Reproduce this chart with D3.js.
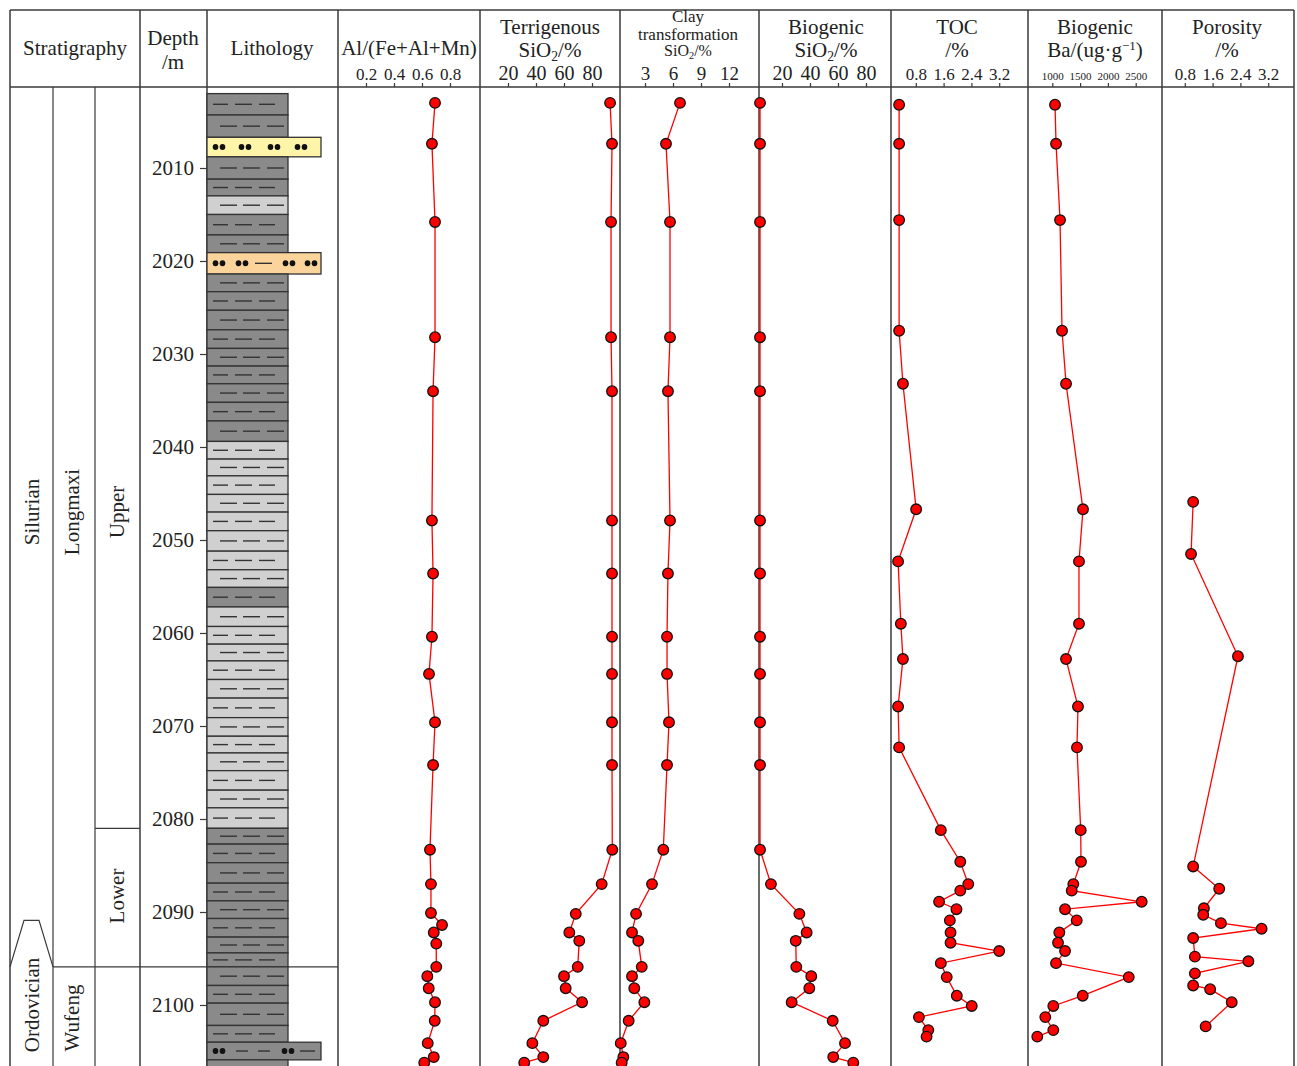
<!DOCTYPE html>
<html>
<head>
<meta charset="utf-8">
<script src="https://cdn.jsdelivr.net/npm/d3@7"></script>
<style>
  body { margin: 0; background: #fff; }
  svg text { font-family: "Liberation Serif", "Times New Roman", serif; fill: #222; }
</style>
</head>
<body>
<div id="chart"></div>
<script>
// depth axis
const depthTicks = [2010, 2020, 2030, 2040, 2050, 2060, 2070, 2080, 2090, 2100];

// lithology: top of each bed (m) and its type
// d = dark shale, l = light shale, s = sandstone, o = silty, g = wide silty shale
const bedTops = [2002.0, 2004.3, 2006.7, 2008.8, 2011.2, 2013.0, 2015.0, 2017.2, 2019.1, 2021.4,
  2023.3, 2025.3, 2027.4, 2029.4, 2031.3, 2033.2, 2035.2, 2037.2, 2039.4, 2041.3,
  2043.1, 2045.1, 2047.0, 2049.0, 2051.2, 2053.2, 2055.1, 2057.2, 2059.3, 2061.2,
  2063.0, 2065.0, 2067.0, 2069.1, 2071.1, 2072.9, 2074.8, 2076.9, 2078.8, 2081.0,
  2082.7, 2084.7, 2086.9, 2088.8, 2090.7, 2092.7, 2094.4, 2095.9, 2097.9, 2099.8,
  2102.2, 2104.0, 2105.9];
const bedBottom = 2108;
const bedTypes = ["d", "d", "s", "d", "d", "l", "d", "d", "o", "d",
  "d", "d", "d", "d", "d", "d", "d", "d", "l", "l",
  "l", "l", "l", "l", "l", "l", "d", "l", "l", "l",
  "l", "l", "l", "l", "l", "l", "l", "l", "l", "d",
  "d", "d", "d", "d", "d", "d", "d", "d", "d", "d",
  "d", "g", "d"];

// Al/(Fe+Al+Mn)
const alDepth = [2003.0, 2007.4, 2015.8, 2028.2, 2034.0, 2047.9, 2053.6, 2060.4, 2064.4, 2069.6,
  2074.2, 2083.3, 2087.0, 2090.1, 2091.4, 2092.2, 2093.4, 2095.9, 2096.9, 2098.2,
  2099.7, 2101.7, 2104.1, 2105.6, 2106.2];
const alValue = [0.693, 0.671, 0.693, 0.693, 0.679, 0.671, 0.679, 0.671, 0.650, 0.693,
  0.679, 0.657, 0.664, 0.664, 0.743, 0.684, 0.702, 0.702, 0.638, 0.648,
  0.693, 0.691, 0.641, 0.684, 0.616];

// shared sample depths for the SiO2 tracks
const sio2Depth = [2003.0, 2007.4, 2015.8, 2028.2, 2034.0, 2047.9, 2053.6, 2060.4, 2064.4, 2069.6,
  2074.2, 2083.3, 2087.0, 2090.2, 2092.2, 2093.1, 2095.9, 2096.9, 2098.2, 2099.7,
  2101.7, 2104.1, 2105.6, 2106.2];
const terrValue = [92.9, 94.3, 93.6, 93.6, 94.3, 94.3, 94.3, 94.3, 94.3, 94.3,
  94.3, 94.5, 86.9, 68.4, 63.8, 70.9, 69.8, 60.0, 61.2, 72.9,
  45.2, 37.4, 45.2, 31.6];
const clayValue = [6.75, 5.25, 5.68, 5.68, 5.46, 5.68, 5.46, 5.36, 5.36, 5.57,
  5.36, 4.96, 3.75, 2.04, 1.61, 2.28, 2.65, 1.61, 1.85, 2.93,
  1.25, 0.40, 0.68, 0.50];
const bioValue = [4.3, 4.3, 4.3, 4.3, 4.3, 4.3, 4.3, 4.3, 4.3, 4.3,
  4.3, 4.3, 12.1, 32.4, 37.6, 29.8, 30.2, 40.9, 39.5, 26.9,
  56.2, 65.0, 56.6, 70.9];

// TOC and biogenic Ba share the same samples
const tocDepth = [2003.2, 2007.4, 2015.6, 2027.5, 2033.2, 2046.7, 2052.3, 2059.0, 2062.8, 2067.9,
  2072.3, 2081.2, 2084.6, 2087.0, 2087.7, 2088.9, 2089.7, 2090.9, 2092.2, 2093.3,
  2094.2, 2095.5, 2097.0, 2099.0, 2100.1, 2101.3, 2102.7, 2103.4];
const tocValue = [0.32, 0.32, 0.32, 0.32, 0.43, 0.81, 0.29, 0.37, 0.43, 0.29,
  0.32, 1.52, 2.08, 2.31, 2.08, 1.47, 1.97, 1.78, 1.80, 1.80,
  3.20, 1.52, 1.69, 1.98, 2.41, 0.89, 1.16, 1.11];
const baValue = [1049, 1067, 1139, 1175, 1247, 1552, 1480, 1480, 1247, 1462,
  1444, 1511, 1516, 1378, 1349, 2608, 1229, 1439, 1126, 1103,
  1229, 1067, 2375, 1547, 1018, 874, 1018, 730];

// porosity
const porDepth = [2045.9, 2051.5, 2062.5, 2085.1, 2087.5, 2089.6, 2090.3, 2091.2, 2091.8, 2092.8,
  2094.8, 2095.3, 2096.6, 2097.9, 2098.3, 2099.7, 2102.3];
const porValue = [1.04, 0.98, 2.33, 1.04, 1.79, 1.35, 1.33, 1.84, 3.01, 1.04,
  1.09, 2.63, 1.09, 1.04, 1.53, 2.15, 1.40];

const W = 1297, H = 1066;
const frameTop = 10, headBottom = 87;
const lineColor = "#3a3a3a";

const svg = d3.select("#chart").append("svg")
  .attr("width", W).attr("height", H);

const y = d3.scaleLinear().domain([2010, 2100]).range([168, 1005]);

// frame and column borders
const borders = [10, 140, 207, 338, 480, 620, 759, 891, 1028, 1162, 1294];
svg.selectAll("line.border").data(borders).enter().append("line")
  .attr("x1", d => d).attr("x2", d => d)
  .attr("y1", frameTop).attr("y2", H)
  .attr("stroke", lineColor).attr("stroke-width", 1.5);
[frameTop, headBottom].forEach(h => {
  svg.append("line").attr("x1", 10).attr("x2", 1294).attr("y1", h).attr("y2", h)
    .attr("stroke", lineColor).attr("stroke-width", 1.5);
});
// stratigraphy sub-columns
[53, 95].forEach(x => {
  svg.append("line").attr("x1", x).attr("x2", x).attr("y1", headBottom).attr("y2", H)
    .attr("stroke", lineColor).attr("stroke-width", 1.2);
});
// Upper / Lower boundary
svg.append("line").attr("x1", 95).attr("x2", 140).attr("y1", y(2081.0)).attr("y2", y(2081.0))
  .attr("stroke", lineColor).attr("stroke-width", 1.2);
// Longmaxi / Wufeng boundary
svg.append("line").attr("x1", 53).attr("x2", 338).attr("y1", y(2095.9)).attr("y2", y(2095.9))
  .attr("stroke", lineColor).attr("stroke-width", 1.2);
// Silurian / Ordovician boundary
svg.append("path")
  .attr("d", d3.line()([[10, y(2095.9)], [24, y(2090.9)], [39, y(2090.9)], [53, y(2095.9)]]))
  .attr("fill", "none").attr("stroke", lineColor).attr("stroke-width", 1.2);

function vtext(x, yc, txt) {
  svg.append("text").attr("transform", `translate(${x},${yc}) rotate(-90)`)
    .attr("text-anchor", "middle").attr("dominant-baseline", "central")
    .attr("font-size", 21).text(txt);
}
vtext(32, 512, "Silurian");
vtext(32, 1005, "Ordovician");
vtext(72, 512, "Longmaxi");
vtext(72, 1018, "Wufeng");
vtext(117, 512, "Upper");
vtext(117, 896, "Lower");

// header titles
function htext(x, yb, txt, size) {
  return svg.append("text").attr("x", x).attr("y", yb).attr("text-anchor", "middle")
    .attr("font-size", size || 21).text(txt);
}
function sio2(x, yb, size) {
  const s = size || 21;
  const t = svg.append("text").attr("x", x).attr("y", yb).attr("text-anchor", "middle")
    .attr("font-size", s);
  t.append("tspan").text("SiO");
  t.append("tspan").attr("font-size", s * 0.65).attr("dy", s * 0.17).text("2");
  t.append("tspan").attr("dy", -s * 0.17).text("/%");
}
htext(75, 55, "Stratigraphy");
htext(173, 45, "Depth");
htext(173, 69, "/m");
htext(272, 55, "Lithology");
htext(409, 55, "Al/(Fe+Al+Mn)");
htext(550, 34, "Terrigenous");
sio2(550, 57);
htext(688, 22, "Clay", 17);
htext(688, 40, "transformation", 17);
sio2(688, 56, 16);
htext(826, 34, "Biogenic");
sio2(826, 57);
htext(957, 34, "TOC");
htext(957, 57, "/%");
htext(1095, 34, "Biogenic");
const ba = svg.append("text").attr("x", 1095).attr("y", 57).attr("text-anchor", "middle").attr("font-size", 21);
ba.append("tspan").text("Ba/(ug·g");
ba.append("tspan").attr("font-size", 13).attr("dy", -7).text("−1");
ba.append("tspan").attr("dy", 7).text(")");
htext(1227, 34, "Porosity");
htext(1227, 57, "/%");

// depth axis
const depthAxis = d3.axisLeft(y).tickValues(depthTicks).tickSize(7).tickPadding(6).tickFormat(d3.format("d"));
const gDepth = svg.append("g").attr("transform", "translate(207,0)").call(depthAxis);
gDepth.select(".domain").remove();
gDepth.selectAll("line").attr("stroke", lineColor).attr("stroke-width", 1.2);
gDepth.selectAll("text").attr("font-size", 21).attr("fill", "#222")
  .attr("font-family", "Liberation Serif, serif");

// lithology column
const litho = svg.append("g");
const fills = { d: "#8a8a8a", l: "#d0d0d0", s: "#fff5a8", o: "#fbd49b", g: "#8a8a8a" };
const beds = bedTops.map((t, i) => ({
  top: t, bottom: i < bedTops.length - 1 ? bedTops[i + 1] : bedBottom, type: bedTypes[i], i: i
}));
litho.selectAll("rect").data(beds).enter().append("rect")
  .attr("x", 207)
  .attr("y", d => y(d.top))
  .attr("width", d => (d.type === "s" || d.type === "o" || d.type === "g") ? 114 : 81)
  .attr("height", d => y(d.bottom) - y(d.top))
  .attr("fill", d => fills[d.type])
  .attr("stroke", "#333").attr("stroke-width", 1.3);

const dashL = [[213, 228], [235, 252], [259, 275]];
const dashR = [[220, 237], [243, 260], [267, 284]];
const symbols = {
  s: { dots: [219, 245, 274, 301], dashes: [] },
  o: { dots: [219, 242, 289, 311], dashes: [[255, 272]] },
  g: { dots: [219, 288], dashes: [[236, 248], [258, 270], [300, 315]] }
};
beds.forEach(b => {
  const ym = (y(b.top) + y(b.bottom)) / 2;
  let dashes, dots = [];
  if (symbols[b.type]) { dashes = symbols[b.type].dashes; dots = symbols[b.type].dots; }
  else dashes = b.i % 2 === 0 ? dashL : dashR;
  if (b.bottom > 2106.8) return;
  dashes.forEach(d => {
    litho.append("line").attr("x1", d[0]).attr("x2", d[1]).attr("y1", ym).attr("y2", ym)
      .attr("stroke", "#333").attr("stroke-width", 1.4);
  });
  dots.forEach(cx => {
    [-3.5, 3.5].forEach(dx => {
      litho.append("ellipse").attr("cx", cx + dx).attr("cy", ym).attr("rx", 2.8).attr("ry", 3)
        .attr("fill", "#111");
    });
  });
});

// data tracks
const tracks = [
  { depth: alDepth, value: alValue, domain: [0, 1], range: [338, 478], ticks: [0.2, 0.4, 0.6, 0.8], fmt: d3.format(".1f"), fs: 17 },
  { depth: sio2Depth, value: terrValue, domain: [0, 100], range: [480, 620], ticks: [20, 40, 60, 80], fmt: d3.format("d"), fs: 20 },
  { depth: sio2Depth, value: clayValue, domain: [0, 15], range: [617, 757], ticks: [3, 6, 9, 12], fmt: d3.format("d"), fs: 19 },
  { depth: sio2Depth, value: bioValue, domain: [0, 100], range: [754, 894], ticks: [20, 40, 60, 80], fmt: d3.format("d"), fs: 20 },
  { depth: tocDepth, value: tocValue, domain: [0, 4], range: [888, 1027], ticks: [0.8, 1.6, 2.4, 3.2], fmt: d3.format(".1f"), fs: 17 },
  { depth: tocDepth, value: baValue, domain: [500, 3000], range: [1024.5, 1163.5], ticks: [1000, 1500, 2000, 2500], fmt: d3.format("d"), fs: 11 },
  { depth: porDepth, value: porValue, domain: [0, 4], range: [1157, 1296], ticks: [0.8, 1.6, 2.4, 3.2], fmt: d3.format(".1f"), fs: 17 }
];

tracks.forEach(t => {
  const x = d3.scaleLinear().domain(t.domain).range(t.range);
  const axis = d3.axisTop(x).tickValues(t.ticks).tickSize(4).tickPadding(3).tickFormat(t.fmt);
  const g = svg.append("g").attr("transform", `translate(0,${headBottom})`).call(axis);
  g.select(".domain").remove();
  g.selectAll("line").attr("stroke", lineColor).attr("stroke-width", 1.2);
  g.selectAll("text").attr("font-size", t.fs).attr("fill", "#222")
    .attr("font-family", "Liberation Serif, serif");

  const pts = t.depth.map((d, i) => [x(t.value[i]), y(d)]);
  svg.append("path").attr("d", d3.line()(pts))
    .attr("fill", "none").attr("stroke", "#ff0000").attr("stroke-width", 1.3);
  svg.append("g").selectAll("circle").data(pts).enter().append("circle")
    .attr("cx", d => d[0]).attr("cy", d => d[1]).attr("r", 5.3)
    .attr("fill", "#ff0000").attr("stroke", "#111").attr("stroke-width", 1.3);
});
</script>
</body>
</html>
